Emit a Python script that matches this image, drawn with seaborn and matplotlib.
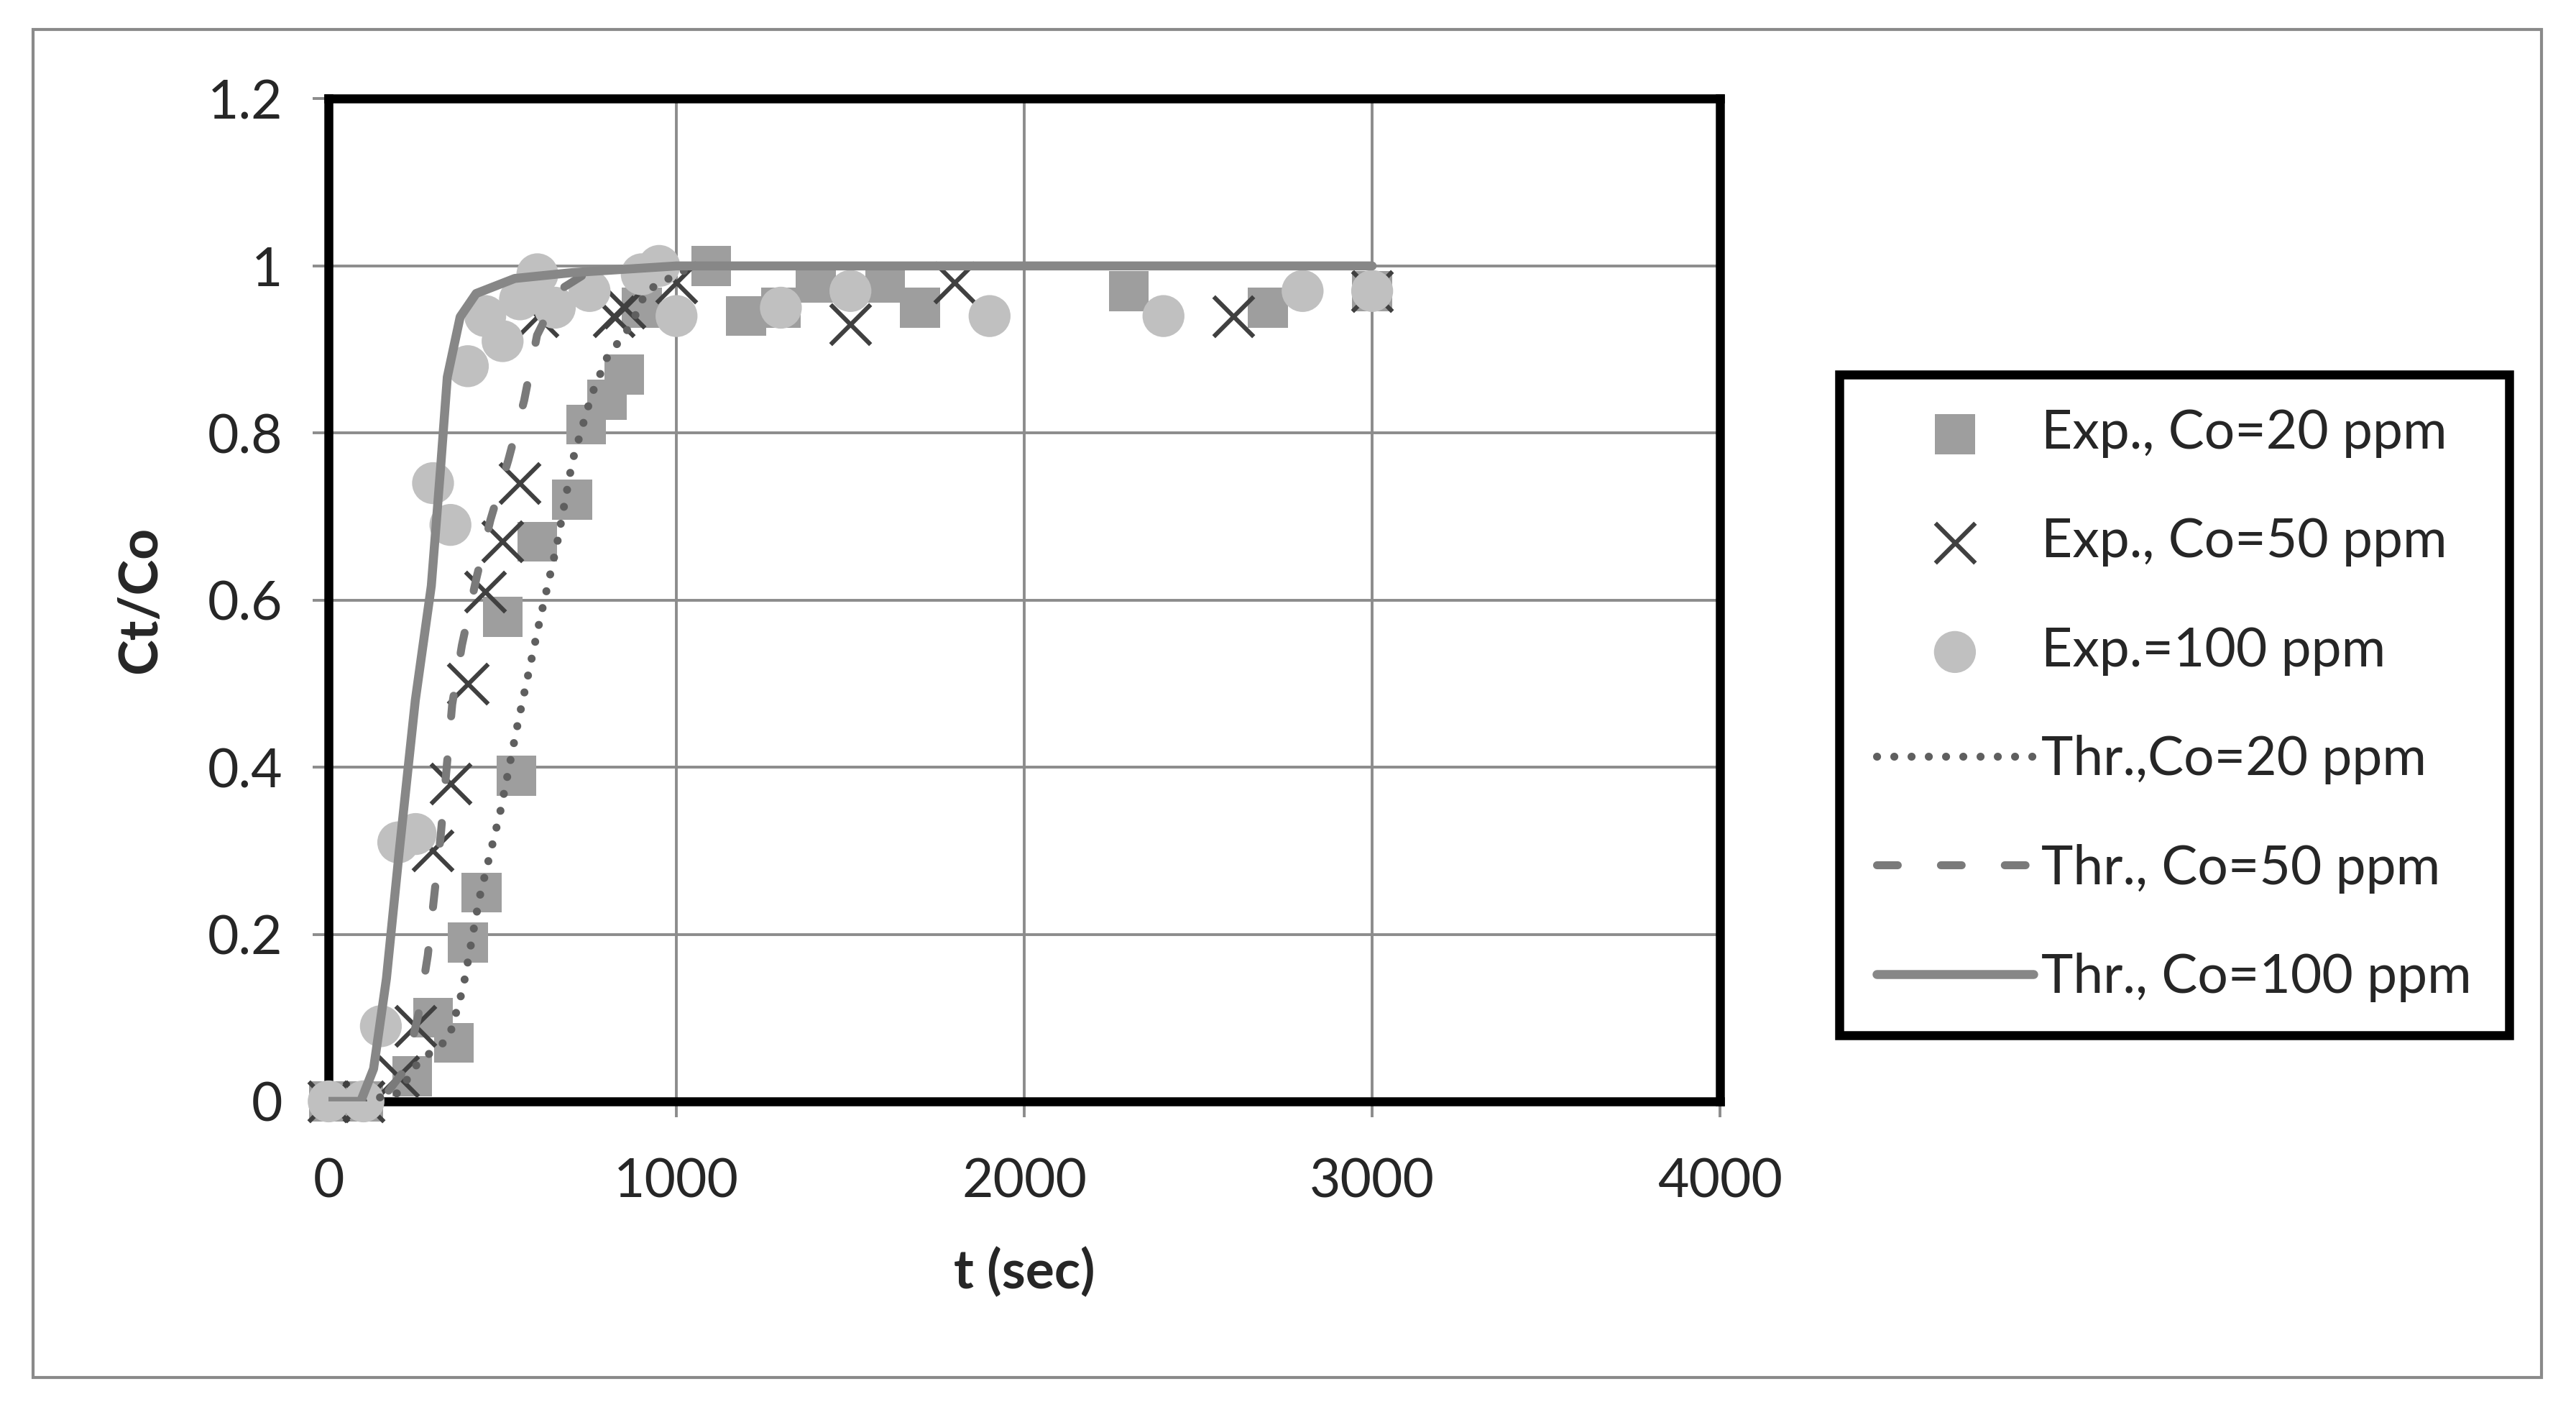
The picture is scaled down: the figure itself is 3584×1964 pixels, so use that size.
import pandas as pd
import matplotlib
matplotlib.use("Agg")
import matplotlib.pyplot as plt
from matplotlib.patches import Rectangle
import seaborn as sns

# ---- data ----
t_exp20 = [0, 100, 240, 300, 360, 400, 440, 540, 500, 600, 700, 740, 800, 850, 900, 1100, 1200, 1300, 1400, 1600, 1700, 2300, 2700, 3000]
c_exp20 = [0, 0, 0.03, 0.10, 0.07, 0.19, 0.25, 0.39, 0.58, 0.67, 0.72, 0.81, 0.84, 0.87, 0.95, 1.0, 0.94, 0.95, 0.98, 0.98, 0.95, 0.97, 0.95, 0.97]

t_exp50 = [0, 100, 200, 250, 300, 350, 400, 450, 500, 550, 600, 820, 850, 1000, 1500, 1800, 2600, 3000]
c_exp50 = [0, 0, 0.03, 0.09, 0.30, 0.38, 0.50, 0.61, 0.67, 0.74, 0.94, 0.94, 0.95, 0.98, 0.93, 0.98, 0.94, 0.97]

t_exp100 = [0, 100, 150, 200, 250, 300, 350, 400, 450, 500, 550, 600, 650, 750, 900, 950, 1000, 1300, 1500, 1900, 2400, 2800, 3000]
c_exp100 = [0, 0, 0.09, 0.31, 0.32, 0.74, 0.69, 0.88, 0.94, 0.91, 0.96, 0.99, 0.95, 0.97, 0.99, 1.0, 0.94, 0.95, 0.97, 0.94, 0.94, 0.97, 0.97]

t_thr20 = [0, 100, 200, 258, 345, 386, 433, 493, 544, 608, 655, 701, 756, 800, 870, 913, 1000, 1050, 2000, 3000]
c_thr20 = [0, 0, 0.01, 0.047, 0.075, 0.135, 0.243, 0.346, 0.453, 0.578, 0.664, 0.767, 0.846, 0.89, 0.93, 0.97, 0.99, 1.0, 1.0, 1.0]

t_thr50 = [0, 100, 156, 221, 258, 285, 322, 355, 383, 424, 465, 516, 562, 599, 663, 728, 850, 1000, 2000, 3000]
c_thr50 = [0, 0, 0.004, 0.039, 0.104, 0.175, 0.318, 0.475, 0.546, 0.625, 0.696, 0.767, 0.839, 0.917, 0.971, 0.988, 0.996, 1.0, 1.0, 1.0]

t_thr100 = [0, 92, 129, 166, 203, 249, 295, 322, 341, 378, 424, 535, 700, 1000, 2000, 3000]
c_thr100 = [0, 0, 0.039, 0.147, 0.30, 0.48, 0.617, 0.76, 0.867, 0.939, 0.967, 0.985, 0.992, 1.0, 1.0, 1.0]

labels = ["Exp., Co=20 ppm", "Exp., Co=50 ppm", "Exp.=100 ppm",
          "Thr.,Co=20 ppm", "Thr., Co=50 ppm", "Thr., Co=100 ppm"]

xticks = [0, 1000, 2000, 3000, 4000]
yticks = [0, 0.2, 0.4, 0.6, 0.8, 1.0, 1.2]
ytick_labels = ["0", "0.2", "0.4", "0.6", "0.8", "1", "1.2"]

# ---- style ----
sns.set_style("white")
plt.rcParams['font.family'] = ['Lato', 'DejaVu Sans']

fig = plt.figure(figsize=(17.92, 9.82), dpi=200)
ax = fig.add_axes([0.1276, 0.22, 0.5401, 0.710])

# experimental points
sns.scatterplot(x=t_exp20, y=c_exp20, marker='s', s=20**2, color='#9e9e9e',
                edgecolor='none', label=labels[0], ax=ax, clip_on=False, zorder=3)
sns.scatterplot(x=t_exp50, y=c_exp50, marker='x', s=20**2, color='#404040',
                linewidth=2.2, label=labels[1], ax=ax, clip_on=False, zorder=3)
sns.scatterplot(x=t_exp100, y=c_exp100, marker='o', s=21**2, color='#c0c0c0',
                edgecolor='none', label=labels[2], ax=ax, clip_on=False, zorder=3)

# theoretical curves
sns.lineplot(x=t_thr20, y=c_thr20, color='#5f5f5f', linewidth=4, linestyle=(0, (0.01, 2.15)),
             dash_capstyle='round', label=labels[3], ax=ax, estimator=None, zorder=4)
sns.lineplot(x=t_thr50, y=c_thr50, color='#7a7a7a', linewidth=4, linestyle=(0, (2.6, 5.4)),
             dash_capstyle='round', label=labels[4], ax=ax, estimator=None, zorder=4)
sns.lineplot(x=t_thr100, y=c_thr100, color='#878787', linewidth=4.5,
             solid_capstyle='round', label=labels[5], ax=ax, estimator=None, zorder=4)

ax.set_xlim(0, 4000)
ax.set_ylim(0, 1.2)
ax.set_xticks(xticks)
ax.set_yticks(yticks)
ax.set_yticklabels(ytick_labels)
ax.grid(True, color='#8c8c8c', linewidth=1.4)
ax.set_axisbelow(True)
for s in ax.spines.values():
    s.set_color('black')
    s.set_linewidth(4.5)
ax.tick_params(axis='both', which='both', direction='out', length=8, width=1.4,
               color='#8c8c8c', labelsize=27, pad=15, left=True, bottom=True)
ax.tick_params(axis='x', pad=20)

ax.set_xlabel("t (sec)", fontsize=27, fontweight='bold', labelpad=20)
ax.set_ylabel("Ct/Co", fontsize=27, fontweight='bold', labelpad=21)

# legend in its own boxed area
handles, labs = ax.get_legend_handles_labels()
ax.get_legend().remove()
fig.patches.append(Rectangle((0.714, 0.2666), 0.260, 0.468, transform=fig.transFigure,
                             fill=False, edgecolor='black', linewidth=4.5, zorder=5))
leg = fig.legend(handles, labs, loc='center', bbox_to_anchor=(0.844, 0.5006),
                 frameon=False, fontsize=27, handlelength=2.9, handletextpad=0.15,
                 labelspacing=1.1, markerscale=1.0)

# outer chart border
fig.patches.append(Rectangle((0.0128, 0.0244), 0.9738, 0.9546, transform=fig.transFigure,
                             fill=False, edgecolor='#8a8a8a', linewidth=1.5))

plt.savefig("out.png", dpi=200)
